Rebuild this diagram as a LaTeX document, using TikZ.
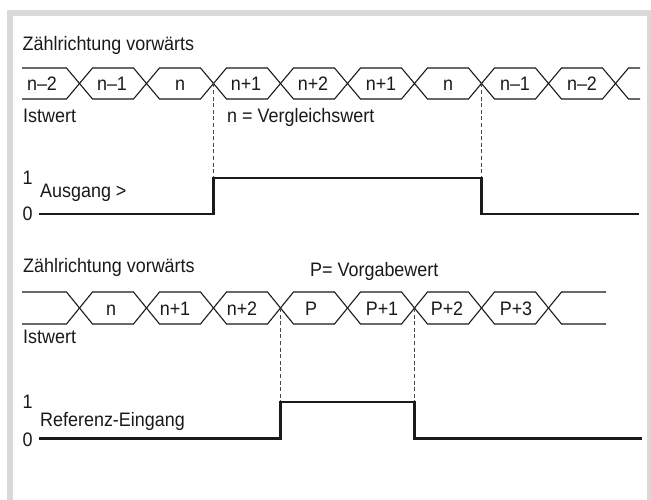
\documentclass[tikz,border=0pt]{standalone}
\usepackage{fontspec}
\setmainfont{Liberation Sans}[FakeStretch=0.92]
\definecolor{framegray}{HTML}{D9D9D9}
\definecolor{ink}{HTML}{1A1A1A}
\begin{document}
\begin{tikzpicture}[x=1pt,y=-1pt,
  bus/.style={line width=1.1pt, draw=ink, line join=miter},
  sig/.style={line width=2.1pt, draw=ink, line join=miter},
  guide/.style={line width=0.8pt, draw=ink!80, dash pattern=on 4pt off 2.6pt},
  lbl/.style={font=\fontsize{19.5}{22}\selectfont, text=ink, inner sep=0pt},
]
\useasboundingbox (0,0) rectangle (651,500);
% frame
\fill[framegray] (7,10) rectangle (651,500);
\fill[white] (13,16) rectangle (647,500);

% ---------- bus 1 ----------
\draw[bus] (22,68) -- (66.5,68) -- (79.5,83.5) -- (66.5,99) -- (22,99);
\foreach \a/\b in {79.5/146.5,146.5/213.5,213.5/280.5,280.5/347.5,347.5/414.5,414.5/481.5,481.5/548.5,548.5/615.5}{
  \draw[bus] (\a,83.5) -- (\a+13,68) -- (\b-13,68) -- (\b,83.5) -- (\b-13,99) -- (\a+13,99) -- cycle;
}
\draw[bus] (640,68) -- (628.5,68) -- (615.5,83.5) -- (628.5,99) -- (640,99);
\node[lbl,anchor=base] (b1s0) at (42,91) {n--2};
\foreach \x/\t/\nm in {112/n--1/b1s1,180/n/b1s2,246/n+1/b1s3,313/n+2/b1s4,381/n+1/b1s5,448/n/b1s6,515/n--1/b1s7,582/n--2/b1s8}{
  \node[lbl,anchor=base] (\nm) at (\x,91) {\t};
}
\node[lbl,anchor=base west] (title1) at (22.5,50.5) {Zählrichtung vorwärts};
\node[lbl,anchor=base west] (ist1) at (23,123) {Istwert};
\node[lbl,anchor=base west] (cmp) at (227,123) {n = Vergleichswert};

% ---------- signal 1 ----------
\coordinate (x1a) at (213.5,83.5);
\coordinate (x1b) at (481.5,83.5);
\coordinate (s1a) at (213.5,178);
\coordinate (s1b) at (481.5,178);
\draw[guide] (x1a) -- (s1a);
\draw[guide] (x1b) -- (s1b);
\draw[sig] (39,214) -- (213.5,214) -- (s1a) -- (s1b) -- (481.5,214) -- (639,214);
\node[lbl,anchor=base] (one1) at (27.5,185) {1};
\node[lbl,anchor=base] (zero1) at (27.5,221) {0};
\node[lbl,anchor=base west] (aus) at (40,197) {Ausgang >};

% ---------- bus 2 ----------
\draw[bus] (22,292) -- (66.5,292) -- (79.5,308) -- (66.5,324) -- (22,324);
\foreach \a/\b in {79.5/146.5,146.5/213.5,213.5/280.5,280.5/347.5,347.5/414.5,414.5/481.5,481.5/548.5}{
  \draw[bus] (\a,308) -- (\a+13,292) -- (\b-13,292) -- (\b,308) -- (\b-13,324) -- (\a+13,324) -- cycle;
}
\draw[bus] (606,292) -- (561.5,292) -- (548.5,308) -- (561.5,324) -- (606,324);
\foreach \x/\t/\nm in {111/n/b2s1,175/n+1/b2s2,242/n+2/b2s3,311/P/b2s4,382/P+1/b2s5,447/P+2/b2s6,516/P+3/b2s7}{
  \node[lbl,anchor=base] (\nm) at (\x,315.5) {\t};
}
\node[lbl,anchor=base west] (title2) at (23,272) {Zählrichtung vorwärts};
\node[lbl,anchor=base west] (preset) at (310,276.5) {P= Vorgabewert};
\node[lbl,anchor=base west] (ist2) at (23,343) {Istwert};

% ---------- signal 2 ----------
\coordinate (x2a) at (280.5,308);
\coordinate (x2b) at (414.5,308);
\coordinate (s2a) at (280.5,402);
\coordinate (s2b) at (414.5,402);
\draw[guide] (x2a) -- (s2a);
\draw[guide] (x2b) -- (s2b);
\draw[sig] (39,438.5) -- (280.5,438.5) -- (s2a) -- (s2b) -- (414.5,438.5) -- (642,438.5);
\node[lbl,anchor=base] (one2) at (27.5,408) {1};
\node[lbl,anchor=base] (zero2) at (27.5,446) {0};
\node[lbl,anchor=base west] (ref) at (40,426) {Referenz-Eingang};
\end{tikzpicture}
\end{document}
